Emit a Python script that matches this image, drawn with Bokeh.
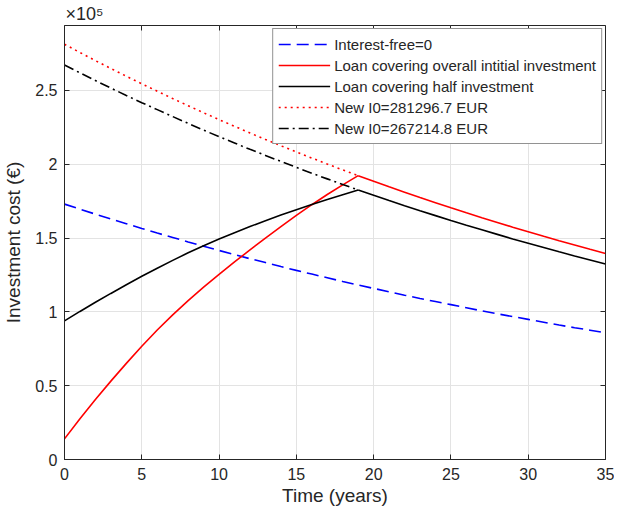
from bokeh.plotting import figure
from bokeh.models import Range1d, FixedTicker, LinearAxis, Legend, LegendItem, Title
from bokeh.embed import file_html
from bokeh.resources import INLINE

# ---- data (values in EUR) ----
years_all = list(range(0, 36))
years_loan = list(range(0, 20))
years_after = list(range(19, 36))

interest_free = [173000, 169600, 166200, 162900, 159700, 156500, 153400, 150400, 147400, 144500,
                 141600, 138800, 136000, 133400, 130700, 128100, 125600, 123100, 120600, 118200,
                 115900, 113600, 111300, 109100, 107000, 104900, 102800, 100700, 98700, 96800,
                 94900, 93000, 91100, 89300, 87600, 85800]

loan_full_up = [14000, 27600, 40600, 53100, 65100, 76700, 87700, 98000, 107600, 116700,
                125400, 133800, 142000, 150000, 157800, 165400, 172600, 179500, 186000, 192300]
loan_full_down = [192300, 188500, 184700, 181100, 177500, 174000, 170500, 167100, 163800,
                  160600, 157400, 154300, 151200, 148200, 145300, 142400, 139600]

loan_half_up = [93900, 100300, 106500, 112500, 118400, 124100, 129600, 134900, 140000, 144800,
                149300, 153600, 157800, 161800, 165600, 169200, 172700, 176100, 179400, 182600]
loan_half_down = [182600, 179000, 175400, 171900, 168500, 165200, 161900, 158700, 155600,
                  152500, 149400, 146500, 143600, 140700, 137900, 135200, 132500]

new_i0_full = [281300, 275700, 270200, 264900, 259600, 254500, 249500, 244500, 239700, 234900,
               230200, 225700, 221200, 216800, 212500, 208300, 204200, 200100, 196200, 192300]
new_i0_half = [267200, 261900, 256700, 251600, 246600, 241700, 237000, 232300, 227700, 223100,
               218700, 214400, 210100, 206000, 201900, 197900, 193900, 190100, 186300, 182600]

x_ticks = [0, 5, 10, 15, 20, 25, 30, 35]
y_ticks = [0, 50000, 100000, 150000, 200000, 250000]
y_tick_labels = ["0", "0.5", "1", "1.5", "2", "2.5"]
legend_labels = ["Interest-free=0", "Loan covering overall intitial investment",
                 "Loan covering half investment", "New I0=281296.7 EUR", "New I0=267214.8 EUR"]
multiplier_text = "×10⁵"
x_max, y_max = 35, 294000

FONT = "Liberation Sans"
AX = "#262626"

p = figure(width=614, height=508, output_backend="svg", toolbar_location=None,
           x_range=Range1d(0, x_max), y_range=Range1d(0, y_max),
           min_border_left=58, min_border_right=9, min_border_top=0, min_border_bottom=40)

p.background_fill_color = "white"
p.border_fill_color = "white"
p.outline_line_color = AX
p.outline_line_width = 1

for ax in (p.xaxis[0], p.yaxis[0]):
    ax.major_tick_in = 5
    ax.major_tick_out = 0
    ax.minor_tick_line_color = None
    ax.axis_line_color = AX
    ax.major_tick_line_color = AX
    ax.major_label_text_font = FONT
    ax.major_label_text_font_size = "16px"
    ax.major_label_text_color = AX
    ax.axis_label_text_font = FONT
    ax.axis_label_text_font_size = "19px"
    ax.axis_label_text_font_style = "normal"
    ax.axis_label_text_color = AX

p.xaxis[0].ticker = FixedTicker(ticks=x_ticks)
p.yaxis[0].ticker = FixedTicker(ticks=y_ticks)
p.yaxis[0].major_label_overrides = {t: l for t, l in zip(y_ticks, y_tick_labels)}
p.xaxis[0].axis_label = "Time (years)"
p.yaxis[0].axis_label = "Investment cost (€)"
p.xaxis[0].major_label_standoff = 8
p.yaxis[0].major_label_standoff = 7
p.xaxis[0].axis_label_standoff = 2
p.yaxis[0].axis_label_standoff = 8

# box ticks on top and right edges of the frame (no labels)
top_ax = LinearAxis(ticker=FixedTicker(ticks=x_ticks), major_tick_in=5, major_tick_out=0,
                    minor_tick_line_color=None, major_label_standoff=0,
                    major_label_overrides={t: "" for t in x_ticks},
                    major_label_text_font_size="1px", fixed_location=y_max,
                    axis_line_color=AX, major_tick_line_color=AX)
right_ax = LinearAxis(ticker=FixedTicker(ticks=y_ticks), major_tick_in=5, major_tick_out=0,
                      minor_tick_line_color=None, major_label_standoff=0,
                      major_label_overrides={t: "" for t in y_ticks},
                      major_label_text_font_size="1px", fixed_location=x_max,
                      axis_line_color=AX, major_tick_line_color=AX)
p.add_layout(top_ax, "above")
p.add_layout(right_ax, "right")

# x10^5 multiplier shown just above the y axis
p.title = Title(text=multiplier_text, align="left", text_font=FONT, text_font_size="18px",
                text_font_style="normal", text_color=AX, offset=1, standoff=3)

p.xgrid.ticker = FixedTicker(ticks=x_ticks)
p.ygrid.ticker = FixedTicker(ticks=y_ticks)
p.xgrid.grid_line_color = "#e3e3e3"
p.ygrid.grid_line_color = "#e3e3e3"

LW = 1.6
r_blue = p.line(years_all, interest_free, line_color="#0000ff", line_width=LW, line_dash="12 6")
r_red1 = p.line(years_loan, loan_full_up, line_color="#ff0000", line_width=LW)
r_red2 = p.line(years_after, loan_full_down, line_color="#ff0000", line_width=LW)
r_blk1 = p.line(years_loan, loan_half_up, line_color="black", line_width=LW)
r_blk2 = p.line(years_after, loan_half_down, line_color="black", line_width=LW)
r_dot = p.line(years_loan, new_i0_full, line_color="#ff0000", line_width=LW, line_dash="2 4")
r_dd = p.line(years_loan, new_i0_half, line_color="black", line_width=LW, line_dash="10 4 2 4")

legend = Legend(items=[
    LegendItem(label=legend_labels[0], renderers=[r_blue]),
    LegendItem(label=legend_labels[1], renderers=[r_red1]),
    LegendItem(label=legend_labels[2], renderers=[r_blk1]),
    LegendItem(label=legend_labels[3], renderers=[r_dot]),
    LegendItem(label=legend_labels[4], renderers=[r_dd]),
], location="top_right")
legend.label_text_font = FONT
legend.label_text_font_size = "15px"
legend.label_text_color = AX
legend.glyph_width = 52
legend.glyph_height = 20
legend.label_height = 20
legend.spacing = 1
legend.padding = 5
legend.margin = 3
legend.label_standoff = 4
legend.border_line_color = AX
legend.border_line_width = 1
legend.background_fill_alpha = 1
p.add_layout(legend)

open("out.html", "w").write(file_html(p, INLINE))
